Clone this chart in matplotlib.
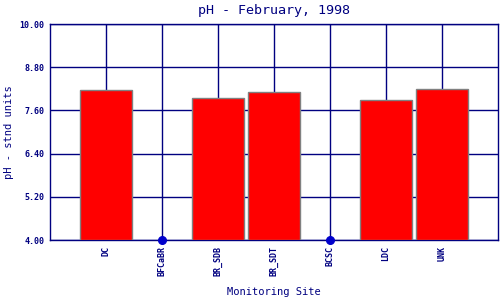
import matplotlib
matplotlib.use('Agg')
import matplotlib.pyplot as plt
import numpy as np

sites = ['DC', 'BFCaBR', 'BR_SDB', 'BR_SDT', 'BCSC', 'LDC', 'UNK']
ph_values = [8.17, np.nan, 7.94, 8.10, np.nan, 7.89, 8.19]
y_ticks = [4.00, 5.20, 6.40, 7.60, 8.80, 10.00]

navy = '#000080'
plt.rcParams['font.family'] = 'DejaVu Sans Mono'

fig = plt.figure(figsize=(5, 3), dpi=100)
ax = fig.add_axes([0.1, 0.2, 0.896, 0.72])

x = np.arange(1, len(sites) + 1)
vals = np.array(ph_values)
has = ~np.isnan(vals)

ax.set_axisbelow(True)
ax.grid(True, color=navy, linewidth=1.0)
ax.bar(x[has], vals[has] - 4.0, bottom=4.0, width=0.93,
       color='#ff0000', edgecolor='#808080', linewidth=1.0, zorder=3)
# missing samples drawn as a dot on the baseline
ax.plot(x[~has], np.full((~has).sum(), 4.0), 'o', color='#0000cc',
        markersize=5.5, zorder=4, clip_on=False)

ax.set_xlim(0, 8)
ax.set_ylim(4.0, 10.0)
ax.set_xticks(x)
ax.set_xticklabels(sites, rotation=90, fontsize=6, fontweight='bold', color=navy)
ax.set_yticks(y_ticks)
ax.set_yticklabels(['%.2f' % v for v in y_ticks], fontsize=6,
                   fontweight='bold', color=navy)
ax.tick_params(length=0, pad=4)
for s in ax.spines.values():
    s.set_color(navy)
    s.set_linewidth(1.0)

ax.set_title('pH - February, 1998', fontsize=9.6, color=navy, pad=7)
ax.set_ylabel('pH - stnd units', fontsize=7.5, color=navy)
ax.set_xlabel('Monitoring Site', fontsize=7.5, color=navy, labelpad=8)

fig.savefig('out.png', dpi=100)
